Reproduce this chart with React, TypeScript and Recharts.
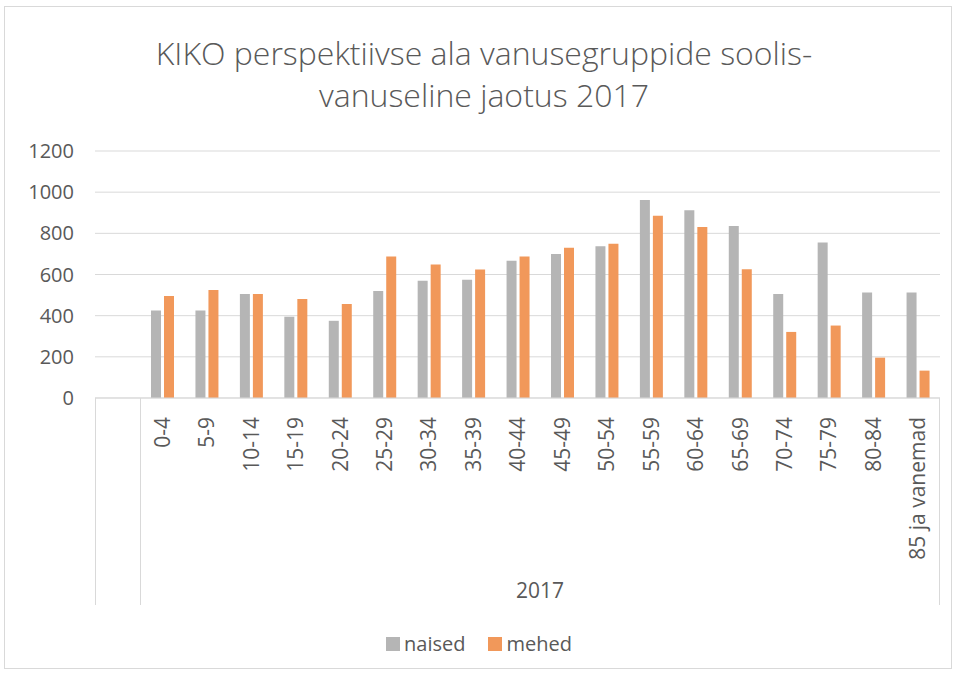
import { BarChart, Bar, XAxis, YAxis, CartesianGrid, Legend } from 'recharts';

const categories = ['0-4', '5-9', '10-14', '15-19', '20-24', '25-29', '30-34', '35-39', '40-44', '45-49', '50-54', '55-59', '60-64', '65-69', '70-74', '75-79', '80-84', '85 ja vanemad'];
const naised = [425, 425, 505, 395, 375, 520, 570, 575, 667, 700, 737, 962, 912, 836, 505, 755, 512, 512];
const mehed = [495, 525, 505, 481, 457, 687, 649, 624, 687, 730, 750, 886, 831, 625, 321, 352, 196, 133];
const yTicks = [0, 200, 400, 600, 800, 1000, 1200];
const groupLabel = '2017';

const data = categories.map((cat, i) => ({ cat, naised: naised[i], mehed: mehed[i] }));

const FONT = "'Open Sans', sans-serif";
const TEXT = '#595959';
const LINE = '#D9D9D9';
const GREY = '#B5B5B5';
const ORANGE = '#F1985A';
const PAD_LEFT = 45;

function CategoryTick(props: any) {
  const { x, y, payload } = props;
  return (
    <g transform={`translate(${x},${y + 11})`}>
      <text transform="rotate(-90)" textAnchor="end" dy="0.36em" fill={TEXT} fontSize={21} fontFamily={FONT}>
        {payload.value}
      </text>
    </g>
  );
}

function LegendBox() {
  const items = [
    { name: 'naised', color: GREY },
    { name: 'mehed', color: ORANGE },
  ];
  return (
    <div style={{ display: 'flex', justifyContent: 'center', gap: 23, fontFamily: FONT, fontSize: 20, color: TEXT }}>
      {items.map((it) => (
        <div key={it.name} style={{ display: 'flex', alignItems: 'center' }}>
          <span style={{ width: 14, height: 14, background: it.color, marginRight: 4, display: 'inline-block' }} />
          <span>{it.name}</span>
        </div>
      ))}
    </div>
  );
}

export default function App() {
  return (
    <div style={{ position: 'absolute', left: 0, top: 0, width: 958, height: 675, background: '#fff' }}>
      <div style={{ position: 'absolute', left: 4, top: 6, width: 946, height: 661, border: `1px solid ${LINE}` }} />
      <div
        style={{
          position: 'absolute',
          left: 0,
          top: 32,
          width: 968,
          textAlign: 'center',
          fontFamily: FONT,
          fontWeight: 300,
          fontSize: 32,
          lineHeight: '42px',
          color: TEXT,
        }}
      >
        KIKO perspektiivse ala vanusegruppide soolis-
        <br />
        vanuseline jaotus 2017
      </div>
      <div style={{ position: 'absolute', left: 0, top: 0 }}>
        <BarChart width={958} height={675} data={data} margin={{ top: 151, right: 18, left: 35, bottom: 67 }} barSize={10} barGap={3}>
          <CartesianGrid vertical={false} stroke={LINE} />
          <XAxis
            dataKey="cat"
            interval={0}
            height={210}
            padding={{ left: PAD_LEFT, right: 0 }}
            tickLine={false}
            axisLine={{ stroke: LINE }}
            tick={<CategoryTick />}
            label={(p: any) => {
              const vb = p.viewBox;
              return (
                <text
                  x={vb.x + PAD_LEFT + (vb.width - PAD_LEFT) / 2}
                  y={590}
                  dy="0.36em"
                  textAnchor="middle"
                  fill={TEXT}
                  fontSize={21}
                  fontFamily={FONT}
                >
                  {groupLabel}
                </text>
              );
            }}
          />
          <YAxis
            width={60}
            domain={[0, 1200]}
            ticks={yTicks}
            tickLine={false}
            axisLine={false}
            tickMargin={15}
            tick={{ fill: TEXT, fontSize: 20, fontFamily: FONT }}
          />
          <Legend verticalAlign="middle" align="center" wrapperStyle={{ top: 630, left: 0, width: 958 }} content={<LegendBox />} />
          <Bar dataKey="naised" name="naised" fill={GREY} isAnimationActive={false} />
          <Bar dataKey="mehed" name="mehed" fill={ORANGE} isAnimationActive={false} />
        </BarChart>
      </div>
      <div style={{ position: 'absolute', left: 95, top: 398, width: 1, height: 207, background: LINE }} />
      <div style={{ position: 'absolute', left: 140, top: 398, width: 1, height: 207, background: LINE }} />
      <div style={{ position: 'absolute', left: 939, top: 398, width: 1, height: 207, background: LINE }} />
    </div>
  );
}
